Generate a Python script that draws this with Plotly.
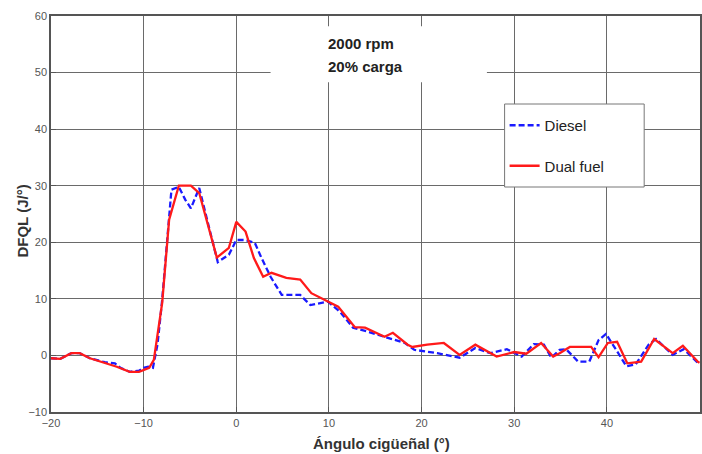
import plotly.graph_objects as go

# Data
diesel_x = [-20, -19, -17.8, -16.9, -15.8, -14.2, -13.1, -12.5, -11.5, -10.5, -10.0, -9.5, -9.0, -8.5,
            -8.0, -7.5, -7.0, -6.2, -5.5, -4.9, -4.0, -3.0, -2.0, -0.8, 0.0, 1.0, 2.0, 2.7, 3.7, 4.9,
            6.9, 8.0, 9.9, 11.2, 12.6, 14.2, 16.0, 18.2, 19.2, 21.7, 24.1, 25.8, 27.4, 29.2, 30.8,
            32.1, 33.2, 34.0, 34.9, 35.6, 36.9, 38.1, 39.1, 39.9, 41.0, 42.1, 43.1, 44.5, 45.3, 47.1,
            48.3, 49.8, 50]
diesel_y = [-0.5, -0.6, 0.4, 0.4, -0.5, -1.2, -1.4, -2.2, -2.9, -2.7, -2.2, -2.0, -2.2, 2.0,
            9.8, 20.0, 29.3, 29.8, 27.5, 26.0, 29.6, 23.0, 16.5, 17.8, 20.4, 20.4, 19.9, 17.3, 13.9, 10.7,
            10.7, 8.9, 9.5, 7.7, 4.9, 4.2, 3.3, 2.2, 1.0, 0.4, -0.4, 1.3, 0.4, 1.1, -0.2,
            2.0, 1.9, -0.4, 1.0, 1.1, -1.1, -1.1, 2.7, 3.8, 1.0, -1.9, -1.6, 1.9, 2.9, 0.1,
            1.1, -1.4, -1.6]

dual_x = [-20, -19, -17.8, -16.9, -15.8, -14.0, -12.9, -11.5, -10.5, -9.4, -8.9, -8.0, -7.25, -6.2,
          -4.9, -4.0, -2.1, -0.8, 0.0, 1.0, 1.9, 2.9, 3.8, 5.4, 6.9, 8.1, 9.9, 11.0, 12.8, 13.9,
          16.0, 16.9, 18.5, 19.0, 20.6, 22.4, 24.1, 25.8, 28.1, 30.0, 31.3, 32.9, 34.2, 34.9, 36.0,
          38.3, 39.1, 40.1, 41.1, 42.2, 43.7, 45.1, 47.1, 48.2, 49.8, 50]
dual_y = [-0.5, -0.6, 0.4, 0.4, -0.5, -1.4, -2.0, -2.9, -2.9, -2.2, -0.8, 9.3, 24.0, 30.0,
          30.0, 28.7, 17.3, 19.0, 23.6, 21.9, 17.2, 13.9, 14.6, 13.7, 13.4, 11.0, 9.5, 8.6, 5.0, 4.9,
          3.3, 4.0, 1.9, 1.5, 1.9, 2.2, 0.1, 1.9, -0.2, 0.6, 0.3, 2.2, -0.2, 0.4, 1.5,
          1.5, -0.3, 2.2, 2.4, -1.4, -1.1, 2.9, 0.4, 1.7, -1.1, -1.3]

x_ticks = [-20, -10, 0, 10, 20, 30, 40, 50]
y_ticks = [-10, 0, 10, 20, 30, 40, 50, 60]

title_line1 = "2000 rpm"
title_line2 = "20% carga"
x_title = "Ángulo cigüeñal (°)"
y_title = "DFQL (J/°)"

FONT = "Liberation Sans, Arial, sans-serif"

fig = go.Figure()
fig.add_trace(go.Scatter(x=diesel_x, y=diesel_y, mode="lines", name="Diesel",
                         legendgroup="d",
                         line=dict(color="#1a1aff", width=2.3, dash="6px,3px")))
fig.add_trace(go.Scatter(x=dual_x, y=dual_y, mode="lines", name="Dual fuel",
                         legendgroup="f",
                         line=dict(color="#ff1a1a", width=2.3)))

# white box behind the annotation text
fig.add_shape(type="rect", xref="x", yref="y", x0=3.7, x1=27.05, y0=48.3, y1=58.2,
              fillcolor="white", line=dict(width=0), layer="above")
# legend frame
fig.add_shape(type="rect", xref="paper", yref="paper",
              x0=(506 - 51) / 651, x1=(646 - 51) / 651,
              y0=(412 - 187) / 396, y1=(412 - 104) / 396,
              fillcolor="white", line=dict(color="#777", width=1), layer="above")

fig.add_annotation(x=13.5, y=55.2, xref="x", yref="y", text="<b>" + title_line1 + "</b>",
                   showarrow=False, font=dict(family=FONT, size=15, color="#222"))
fig.add_annotation(x=13.9, y=51.0, xref="x", yref="y", text="<b>" + title_line2 + "</b>",
                   showarrow=False, font=dict(family=FONT, size=15, color="#222"))

# axis titles
fig.add_annotation(x=(382.5 - 51) / 651, y=(412 - 443) / 396, xref="paper", yref="paper",
                   text="<b>" + x_title + "</b>", showarrow=False,
                   xanchor="center", yanchor="middle",
                   font=dict(family=FONT, size=15, color="#333"))
fig.add_annotation(x=(22 - 51) / 651, y=(412 - 221.5) / 396, xref="paper", yref="paper",
                   text="<b>" + y_title + "</b>", showarrow=False, textangle=-90,
                   xanchor="center", yanchor="middle",
                   font=dict(family=FONT, size=15, color="#333"))

axis_common = dict(showgrid=True, gridcolor="#6a6a6a", gridwidth=1.2,
                   showline=True, linecolor="#555", linewidth=1.5, mirror=True,
                   ticks="inside", ticklen=5, tickcolor="#555", zeroline=False,
                   tickfont=dict(family=FONT, size=11, color="#555"))

fig.update_layout(
    width=702, height=454,
    margin=dict(l=51, r=0, t=16, b=42),
    paper_bgcolor="white", plot_bgcolor="white",
    xaxis=dict(range=[-20, 50.05], tickvals=x_ticks, **axis_common),
    yaxis=dict(range=[-10, 60], tickvals=y_ticks, **axis_common),
    showlegend=True,
    legend=dict(x=(506 - 51) / 651, y=(412 - 109) / 396, xanchor="left", yanchor="top",
                bgcolor="rgba(0,0,0,0)", borderwidth=0,
                font=dict(family=FONT, size=15, color="#222"),
                tracegroupgap=18, itemwidth=30),
)

fig.write_html("out.html", config={"displayModeBar": False},
               post_script="document.body.style.margin='0';document.body.style.overflow='hidden';")
